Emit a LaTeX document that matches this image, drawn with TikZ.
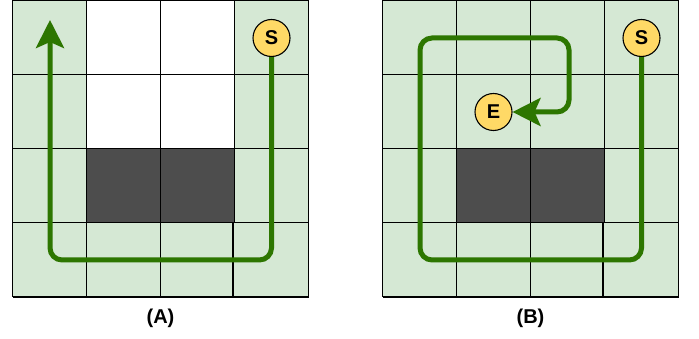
\documentclass[tikz,border=0pt]{standalone}
\usepackage{fontspec}
\setmainfont{Liberation Sans}
\usetikzlibrary{arrows.meta}
\definecolor{cellgreen}{HTML}{D5E8D4}
\definecolor{celldark}{HTML}{4D4D4D}
\definecolor{pathgreen}{HTML}{2D7600}
\definecolor{tokenyellow}{HTML}{FFD966}
\begin{document}
\begin{tikzpicture}[x=1pt,y=-1pt,
  gridline/.style={black, line width=1.6pt},
  route/.style={pathgreen, line width=5pt, rounded corners=12pt, -{Stealth[length=28pt,width=28pt,inset=6pt]}},
  token/.style={circle, draw=black, line width=1.1pt, fill=tokenyellow, minimum size=37pt, inner sep=0pt, font=\fontsize{20}{20}\selectfont\bfseries},
  caption/.style={font=\fontsize{20}{20}\selectfont\bfseries}]
\useasboundingbox (0,0) rectangle (699,339);
% ---------- Grid A ----------
\begin{scope}[shift={(12.5,0.3)}]
  \fill[cellgreen] (0,0) rectangle (296,296.4);
  \fill[white] (74,0) rectangle (222,148.4);
  \fill[celldark] (74,148.4) rectangle (222,222.4);
  \foreach \y in {0,74.1,148.4,222.4,296.4} \draw[gridline] (0,\y) -- (296,\y);
  \foreach \x in {0,74,148} \draw[gridline] (\x,0) -- (\x,296.4);
  \draw[gridline] (222,0) -- (222,222.4);
  \draw[gridline, line width=2pt] (220,222.4) -- (220,296.4);
  \draw[gridline] (296,0) -- (296,296.4);
\end{scope}
% ---------- Grid B ----------
\begin{scope}[shift={(382.5,0.3)}]
  \fill[cellgreen] (0,0) rectangle (296,296.4);
  \fill[celldark] (74,148.4) rectangle (222,222.4);
  \foreach \y in {0,74.1,148.4,222.4,296.4} \draw[gridline] (0,\y) -- (296,\y);
  \foreach \x in {0,74,148} \draw[gridline] (\x,0) -- (\x,296.4);
  \draw[gridline] (222,0) -- (222,222.4);
  \draw[gridline, line width=2pt] (220.5,222.4) -- (220.5,296.4);
  \draw[gridline] (296,0) -- (296,296.4);
\end{scope}
% ---------- Tokens ----------
\node[token] (sA) at (271.5,38) {S};
\node[token] (sB) at (641.5,38) {S};
\node[token] (eB) at (493.5,112) {E};
\coordinate (endA) at (50,20);
% ---------- Routes ----------
\draw[route] (sA) -- (271.5,260) -- (50,260) -- (endA);
\draw[route] (sB) -- (641.5,260) -- (420,260) -- (420,38) -- (569,38) -- (569,112) -- (eB);
% ---------- Captions ----------
\node[caption] (capA) at (160.5,318) {(A)};
\node[caption] (capB) at (530.5,318) {(B)};
\end{tikzpicture}
\end{document}
